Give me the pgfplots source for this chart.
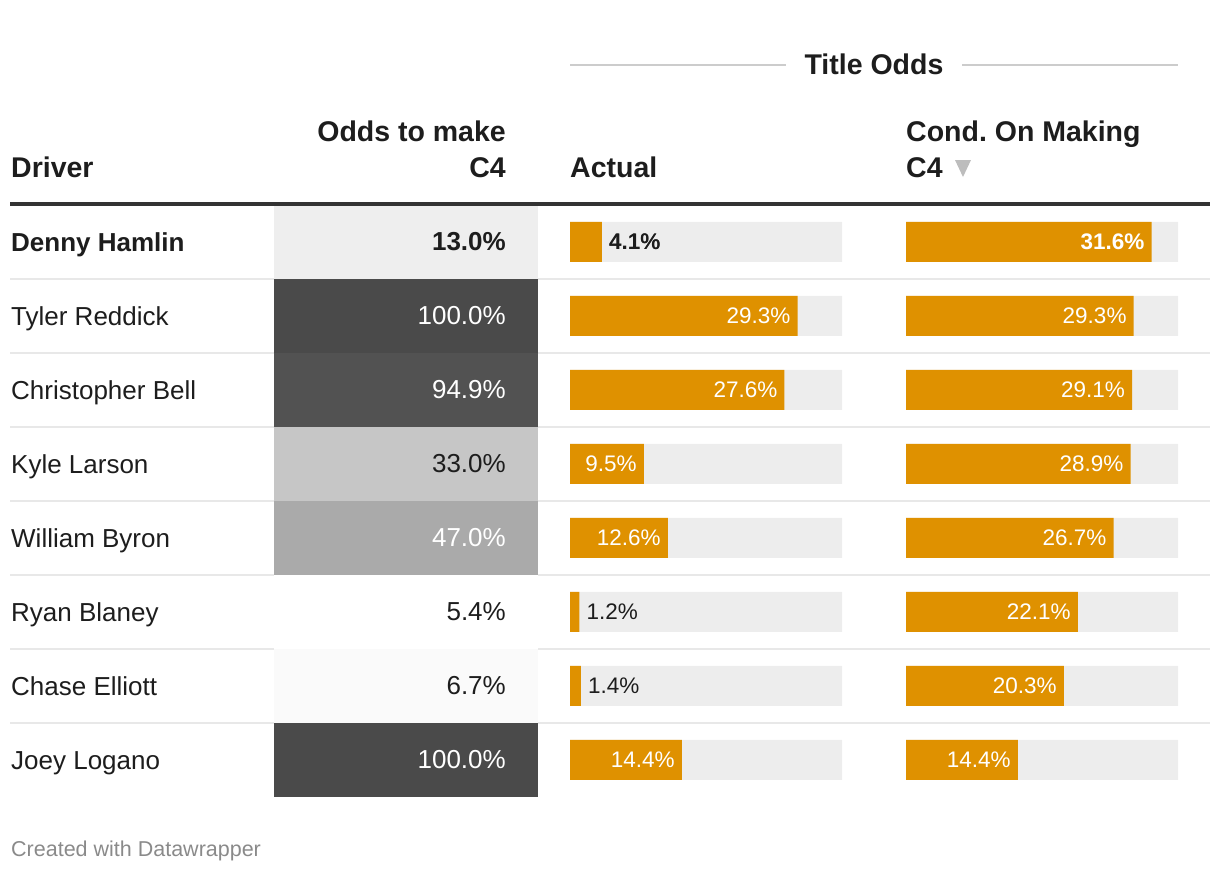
\documentclass[border=0pt]{standalone}
\usepackage{fontspec}
\setmainfont{Liberation Sans}
\usepackage{pgfplots}
\usepackage{pgfplotstable}
\pgfplotsset{compat=1.18}
\frenchspacing
\definecolor{orng}{HTML}{DF9100}
\definecolor{bgbar}{HTML}{EDEDED}
\definecolor{txt}{HTML}{1D1D1D}
\definecolor{rulec}{HTML}{333333}
\definecolor{sepc}{HTML}{E8E8E8}
\definecolor{tline}{HTML}{CCCCCC}
\definecolor{foot}{HTML}{8A8A8A}
\definecolor{tri}{HTML}{BDBDBD}
\definecolor{hA}{HTML}{EEEEEE}
\definecolor{hB}{HTML}{4A4A4A}
\definecolor{hC}{HTML}{525252}
\definecolor{hD}{HTML}{C6C6C6}
\definecolor{hE}{HTML}{AAAAAA}
\definecolor{hF}{HTML}{FFFFFF}
\definecolor{hG}{HTML}{FAFAFA}

\pgfplotstableread{
row heat actual cond
1 13.0 4.1 31.6
2 100.0 29.3 29.3
3 94.9 27.6 29.1
4 33.0 9.5 28.9
5 47.0 12.6 26.7
6 5.4 1.2 22.1
7 6.7 1.4 20.3
8 100.0 14.4 14.4
}\datatable

\newcommand{\fs}[1]{\fontsize{#1}{#1}\selectfont}
\pgfplotsset{
  colax/.style={scale only axis, height=592pt, ymin=0.5, ymax=8.5, y dir=reverse,
    hide axis, clip=false, anchor=north west},
  pct/.style={nodes near coords={\pgfmathprintnumber[fixed,fixed zerofill,precision=1,assume math mode=true]{\pgfplotspointmeta}\%}},
  hm/.style={xbar, bar shift=0pt, bar width=74pt, draw=none, point meta=explicit, pct,
    every node near coord/.append style={anchor=east, xshift=-32pt, inner sep=0pt}},
  bb/.style={xbar, bar shift=0pt, bar width=40pt, draw=none},
  lab/.style={xbar, bar shift=0pt, bar width=40pt, draw=none, fill=none, point meta=x, pct},
  inl/.style={every node near coord/.append style={anchor=east, xshift=-7pt, inner sep=0pt, text=white, font=\fs{22.5}}},
  outl/.style={every node near coord/.append style={anchor=west, xshift=7pt, inner sep=0pt, text=txt, font=\fs{22.5}}},
}

\begin{document}
\begin{tikzpicture}
\path[use as bounding box] (0,0) rectangle (1220pt,872pt);

% canvas axis: pixel coordinates
\begin{axis}[at={(0pt,0pt)}, anchor=south west, scale only axis, width=1220pt, height=872pt,
  xmin=0, xmax=1220, ymin=0, ymax=872, y dir=reverse, hide axis, clip=false]
  \addplot[draw=none] coordinates {(0,0) (1220,872)};
  % separators
  \draw[sepc, line width=2pt] (axis cs:10,279) -- (axis cs:1210,279);
  \draw[sepc, line width=2pt] (axis cs:10,353) -- (axis cs:1210,353);
  \draw[sepc, line width=2pt] (axis cs:10,427) -- (axis cs:1210,427);
  \draw[sepc, line width=2pt] (axis cs:10,501) -- (axis cs:1210,501);
  \draw[sepc, line width=2pt] (axis cs:10,575) -- (axis cs:1210,575);
  \draw[sepc, line width=2pt] (axis cs:10,649) -- (axis cs:1210,649);
  \draw[sepc, line width=2pt] (axis cs:10,723) -- (axis cs:1210,723);
  % title odds
  \draw[tline, line width=2pt] (axis cs:570,65) -- (axis cs:786,65);
  \draw[tline, line width=2pt] (axis cs:962,65) -- (axis cs:1178,65);
  \node[anchor=base, inner sep=0pt, text=txt, font=\bfseries\fs{28.5}] at (axis cs:874,74.5) {Title Odds};
  % headers
  \node[anchor=base west, inner sep=0pt, text=txt, font=\bfseries\fs{28.5}] at (axis cs:11,177) {Driver};
  \node[anchor=base east, inner sep=0pt, text=txt, font=\bfseries\fs{28.5}] at (axis cs:506,141) {Odds to make};
  \node[anchor=base east, inner sep=0pt, text=txt, font=\bfseries\fs{28.5}] at (axis cs:506,177) {C4};
  \node[anchor=base west, inner sep=0pt, text=txt, font=\bfseries\fs{28.5}] at (axis cs:570,177) {Actual};
  \node[anchor=base west, inner sep=0pt, text=txt, font=\bfseries\fs{28.5}] at (axis cs:906,141) {Cond.\ On Making};
  \node[anchor=base west, inner sep=0pt, text=txt, font=\bfseries\fs{28.5}] at (axis cs:906,177) {C4};
  \fill[tri] (axis cs:955,160) -- (axis cs:971,160) -- (axis cs:963,177) -- cycle;
  % driver names
  \node[anchor=base west, inner sep=0pt, text=txt, font=\bfseries\fs{26}] at (axis cs:11,251.3) {Denny Hamlin};
  \node[anchor=base west, inner sep=0pt, text=txt, font=\fs{26}] at (axis cs:11,325.3) {Tyler Reddick};
  \node[anchor=base west, inner sep=0pt, text=txt, font=\fs{26}] at (axis cs:11,399.3) {Christopher Bell};
  \node[anchor=base west, inner sep=0pt, text=txt, font=\fs{26}] at (axis cs:11,473.3) {Kyle Larson};
  \node[anchor=base west, inner sep=0pt, text=txt, font=\fs{26}] at (axis cs:11,547.3) {William Byron};
  \node[anchor=base west, inner sep=0pt, text=txt, font=\fs{26}] at (axis cs:11,621.3) {Ryan Blaney};
  \node[anchor=base west, inner sep=0pt, text=txt, font=\fs{26}] at (axis cs:11,695.3) {Chase Elliott};
  \node[anchor=base west, inner sep=0pt, text=txt, font=\fs{26}] at (axis cs:11,769.3) {Joey Logano};
  % footer
  \node[anchor=base west, inner sep=0pt, text=foot, font=\fs{21.5}] at (axis cs:11,856) {Created with Datawrapper};
\end{axis}

% heatmap column: odds to make C4
\begin{axis}[colax, at={(274pt,667pt)}, width=264pt, xmin=0, xmax=1]
  \addplot[hm, fill=hA, every node near coord/.append style={text=txt, font=\bfseries\fs{26}}] coordinates {(1,1) [13.0]};
  \addplot[hm, fill=hB, every node near coord/.append style={text=white, font=\fs{26}}] coordinates {(1,2) [100.0]};
  \addplot[hm, fill=hC, every node near coord/.append style={text=white, font=\fs{26}}] coordinates {(1,3) [94.9]};
  \addplot[hm, fill=hD, every node near coord/.append style={text=txt, font=\fs{26}}] coordinates {(1,4) [33.0]};
  \addplot[hm, fill=hE, every node near coord/.append style={text=white, font=\fs{26}}] coordinates {(1,5) [47.0]};
  \addplot[hm, fill=hF, every node near coord/.append style={text=txt, font=\fs{26}}] coordinates {(1,6) [5.4]};
  \addplot[hm, fill=hG, every node near coord/.append style={text=txt, font=\fs{26}}] coordinates {(1,7) [6.7]};
  \addplot[hm, fill=hB, every node near coord/.append style={text=white, font=\fs{26}}] coordinates {(1,8) [100.0]};
\end{axis}

% Actual title odds
\begin{axis}[colax, at={(570pt,667pt)}, width=272pt, xmin=0, xmax=35]
  \addplot[bb, fill=bgbar] table[x expr=35, y=row] {\datatable};
  \addplot[bb, fill=orng] table[x=actual, y=row] {\datatable};
  \addplot[lab, outl, every node near coord/.append style={font=\bfseries\fs{22.5}},
    skip coords between index={1}{8}] table[x=actual, y=row] {\datatable};
  \addplot[lab, inl, skip coords between index={0}{1},
    x filter/.expression={x<5 ? nan : x}] table[x=actual, y=row] {\datatable};
  \addplot[lab, outl, skip coords between index={0}{1},
    x filter/.expression={x<5 ? x : nan}] table[x=actual, y=row] {\datatable};
\end{axis}

% Conditional on making C4
\begin{axis}[colax, at={(906pt,667pt)}, width=272pt, xmin=0, xmax=35]
  \addplot[bb, fill=bgbar] table[x expr=35, y=row] {\datatable};
  \addplot[bb, fill=orng] table[x=cond, y=row] {\datatable};
  \addplot[lab, inl, every node near coord/.append style={font=\bfseries\fs{22.5}},
    skip coords between index={1}{8}] table[x=cond, y=row] {\datatable};
  \addplot[lab, inl, skip coords between index={0}{1}] table[x=cond, y=row] {\datatable};
\end{axis}

% heavy header rule
\draw[rulec, line width=4pt] (10pt,668pt) -- (1210pt,668pt);
\end{tikzpicture}
\end{document}
